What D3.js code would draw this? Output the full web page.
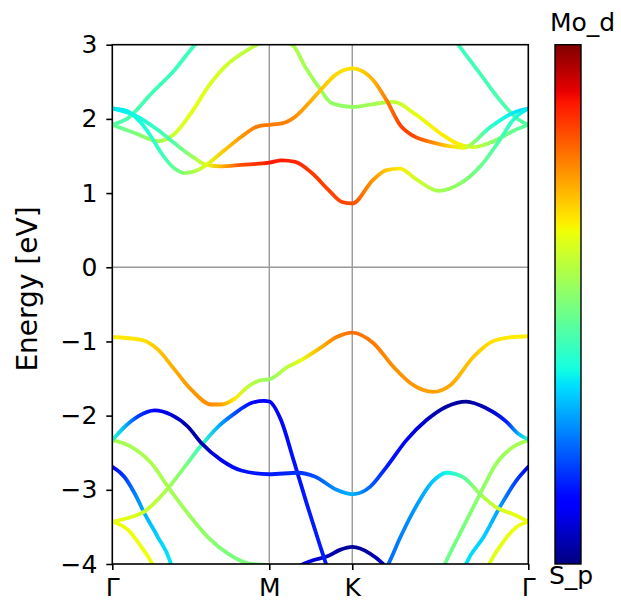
<!DOCTYPE html>
<html>
<head>
<meta charset="utf-8">
<script src="https://cdn.jsdelivr.net/npm/d3@7/dist/d3.min.js"></script>
<style>
  html, body { margin: 0; padding: 0; background: #fff; }
  svg { display: block; font-family: "DejaVu Sans", sans-serif; }
</style>
</head>
<body>
<svg id="chart" width="621" height="607"></svg>
<script>
// High-symmetry path Γ–M–K–Γ of the hexagonal Brillouin zone
const kLabels = ["Γ", "M", "K", "Γ"];
const kDist = [0, 1.137, 1.738, 3.013];   // cumulative path length (1/Å)
const eTicks = [3, 2, 1, 0, -1, -2, -3, -4];
const eRange = [-4, 3];
const projLabels = ["S_p", "Mo_d"];

// Each band: [path coordinate (0=Γ,1=M,2=K,3=Γ), energy in eV, Mo_d weight 0..1]
const bandC1 = [
  [0, 2.14, .35], [0.143, 2.05, .37], [0.291, 1.85, .42], [0.397, 1.67, .45], [0.525, 1.47, .55],
  [0.599, 1.38, .62], [0.694, 1.36, .72], [0.822, 1.38, .83], [1, 1.41, .88],
  [1.153, 1.44, .88], [1.313, 1.42, .87], [1.514, 1.27, .85], [1.716, 1.04, .84], [1.876, 0.88, .84], [2, 0.86, .83],
  [2.119, 1.18, .75], [2.195, 1.31, .70], [2.271, 1.33, .66], [2.366, 1.18, .60], [2.489, 1.03, .55],
  [2.614, 1.13, .52], [2.727, 1.36, .48], [2.839, 1.72, .44], [2.915, 1.99, .40], [3, 2.14, .35]
];
const bandC2 = [
  [0, 2.14, .35], [0.100, 2.10, .36], [0.185, 1.94, .38], [0.248, 1.76, .40], [0.312, 1.54, .42],
  [0.397, 1.33, .47], [0.461, 1.27, .52], [0.546, 1.31, .58], [0.599, 1.38, .62], [0.716, 1.58, .70],
  [0.822, 1.76, .75], [0.928, 1.90, .78], [1, 1.92, .78],
  [1.153, 1.94, .78], [1.313, 2.03, .76], [1.475, 2.21, .73], [1.635, 2.41, .70], [1.795, 2.59, .68], [2, 2.68, .67],
  [2.119, 2.52, .72], [2.195, 2.25, .78], [2.271, 1.92, .84], [2.347, 1.77, .84], [2.460, 1.68, .76],
  [2.557, 1.63, .68], [2.634, 1.61, .63], [2.688, 1.68, .52], [2.764, 1.85, .42], [2.839, 1.98, .38],
  [2.934, 2.10, .35], [3, 2.14, .33]
];
const bandC3 = [
  [0, 1.92, .46], [0.143, 1.81, .50], [0.291, 1.70, .55], [0.397, 1.80, .60], [0.503, 2.08, .63],
  [0.610, 2.43, .62], [0.716, 2.70, .60], [0.864, 2.93, .58], [1, 3.06, .57],
  [1.273, 3.00, .56], [1.434, 2.70, .55], [1.595, 2.43, .54], [1.755, 2.21, .53], [2, 2.16, .53],
  [2.119, 2.20, .55], [2.233, 2.23, .58], [2.366, 2.05, .63], [2.498, 1.81, .66], [2.593, 1.67, .66],
  [2.688, 1.62, .60], [2.795, 1.69, .52], [2.926, 1.85, .47], [3, 1.92, .45]
];
const bandC4a = [
  [0, 1.92, .45], [0.100, 2.01, .44], [0.248, 2.34, .43], [0.397, 2.66, .42], [0.514, 2.97, .42], [0.590, 3.15, .42]
];
const bandC4b = [
  [2.498, 3.33, .42], [2.602, 3.00, .42], [2.726, 2.61, .43], [2.839, 2.25, .44], [2.934, 2.01, .45], [3, 1.92, .45]
];
const bandV1 = [
  [0, -0.94, .66], [0.185, -0.98, .67], [0.291, -1.11, .70], [0.397, -1.38, .73], [0.503, -1.65, .75],
  [0.631, -1.85, .76], [0.694, -1.85, .74], [0.780, -1.77, .66], [0.864, -1.61, .58], [0.949, -1.52, .55], [1, -1.51, .53],
  [1.225, -1.34, .58], [1.386, -1.25, .63], [1.611, -1.09, .72], [1.812, -0.94, .77], [2, -0.88, .79],
  [2.119, -1.02, .78], [2.233, -1.34, .76], [2.347, -1.59, .75], [2.460, -1.68, .74], [2.557, -1.59, .73],
  [2.688, -1.21, .70], [2.795, -1.00, .67], [2.915, -0.94, .66], [3, -0.93, .66]
];
const bandV2 = [
  [0, -2.33, .40], [0.079, -2.15, .30], [0.164, -2.01, .18], [0.270, -1.93, .12], [0.376, -1.99, .08],
  [0.482, -2.15, .03], [0.567, -2.37, .04], [0.694, -2.60, .10], [0.822, -2.74, .14], [1, -2.79, .15],
  [1.346, -2.77, .17], [1.547, -2.82, .20], [1.812, -3.00, .27], [2, -3.06, .30],
  [2.101, -2.96, .22], [2.195, -2.69, .15], [2.308, -2.33, .10], [2.422, -2.06, .06], [2.534, -1.88, .03],
  [2.648, -1.81, .02], [2.761, -1.90, .05], [2.875, -2.08, .15], [2.941, -2.24, .30], [3, -2.32, .40]
];
const bandV3a = [
  [0, -2.33, .55], [0.121, -2.42, .55], [0.248, -2.64, .56], [0.355, -2.96, .55], [0.482, -3.32, .54],
  [0.610, -3.64, .52], [0.737, -3.86, .50], [0.864, -3.99, .50], [1, -4.02, .50], [1.369, -4.30, .50]
];
const bandV3b = [
  [2.498, -4.15, .48], [2.536, -3.95, .48], [2.631, -3.50, .50], [2.727, -3.05, .52], [2.820, -2.64, .54],
  [2.915, -2.42, .55], [3, -2.33, .55]
];
const bandV4a = [
  [0, -3.43, .64], [0.100, -3.38, .62], [0.206, -3.29, .60], [0.355, -2.98, .55], [0.461, -2.69, .50],
  [0.567, -2.40, .42], [0.673, -2.15, .30], [0.780, -1.97, .20], [0.885, -1.83, .13], [0.966, -1.80, .12], [1, -1.81, .12],
  [1.141, -2.06, .13], [1.298, -2.62, .14], [1.455, -3.20, .15], [1.611, -3.75, .15], [1.684, -4.00, .15], [1.757, -4.25, .15]
];
const bandV4b = [
  [2.186, -4.08, .23], [2.205, -4.00, .23], [2.271, -3.65, .25], [2.347, -3.29, .27], [2.460, -2.88, .32],
  [2.536, -2.77, .37], [2.631, -2.83, .45], [2.727, -3.06, .55], [2.820, -3.24, .60], [2.915, -3.33, .63], [3, -3.43, .64]
];
const bandV5a = [
  [0, -2.69, .10], [0.079, -2.83, .18], [0.143, -3.05, .25], [0.206, -3.32, .30], [0.291, -3.64, .33],
  [0.366, -3.95, .35], [0.380, -4.05, .35]
];
const bandV5b = [
  [2.630, -4.10, .35], [2.650, -3.98, .35], [2.745, -3.64, .33], [2.839, -3.23, .28], [2.934, -2.87, .18], [3, -2.69, .08]
];
const bandV6a = [
  [0, -3.43, .64], [0.100, -3.54, .64], [0.185, -3.77, .64], [0.248, -3.97, .64], [0.266, -4.05, .64]
];
const bandV6b = [
  [2.765, -4.06, .62], [2.782, -3.98, .62], [2.858, -3.70, .63], [2.934, -3.50, .64], [3, -3.43, .64]
];
const bandV7 = [
  [1.249, -4.10, .10], [1.370, -4.02, .10], [1.527, -3.95, .08], [1.692, -3.90, .05], [1.853, -3.81, .03],
  [2, -3.77, .02], [2.101, -3.86, .03], [2.176, -4.00, .06], [2.214, -4.10, .06]
];

const bands = [bandV7, bandV6a, bandV6b, bandV5a, bandV5b, bandV4a, bandV4b, bandV3a, bandV3b,
               bandV2, bandV1, bandC4a, bandC4b, bandC3, bandC2, bandC1];

// ---- layout ----
const svg = d3.select("#chart");
const box = { left: 112.3, right: 528.3, top: 44.7, bottom: 564 };
const cbar = { x: 555, w: 26, top: 44.7, bottom: 564 };
const tickFont = "25px";

// jet colormap built from its channel breakpoints
const rCh = d3.scaleLinear().domain([0, 0.35, 0.66, 0.89, 1]).range([0, 0, 1, 1, 0.5]).clamp(true);
const gCh = d3.scaleLinear().domain([0, 0.125, 0.375, 0.64, 0.91, 1]).range([0, 0, 1, 1, 0, 0]).clamp(true);
const bCh = d3.scaleLinear().domain([0, 0.11, 0.34, 0.65, 1]).range([0.5, 1, 1, 0, 0]).clamp(true);
const jet = t => d3.rgb(255 * rCh(t), 255 * gCh(t), 255 * bCh(t)).formatHex();

const pathToK = d3.scaleLinear().domain([0, 1, 2, 3]).range(kDist);
const x = d3.scaleLinear().domain([kDist[0], kDist[3]]).range([box.left, box.right]);
const y = d3.scaleLinear().domain(eRange).range([box.bottom, box.top]);
const px = s => x(pathToK(s));

const defs = svg.append("defs");
defs.append("clipPath").attr("id", "plot-clip")
  .append("rect").attr("x", box.left).attr("y", box.top)
  .attr("width", box.right - box.left).attr("height", box.bottom - box.top);

// reference lines: high-symmetry points and Fermi level
const guides = svg.append("g").attr("stroke", "#9a9a9a").attr("stroke-width", 1.4);
kDist.slice(1, 3).forEach(k => {
  guides.append("line").attr("x1", x(k)).attr("x2", x(k)).attr("y1", box.top).attr("y2", box.bottom);
});
guides.append("line").attr("x1", box.left).attr("x2", box.right).attr("y1", y(0)).attr("y2", y(0));

// bands, coloured along k by the projection weight
const line = d3.line().x(d => px(d[0])).y(d => y(d[1])).curve(d3.curveMonotoneX);
const bandLayer = svg.append("g").attr("clip-path", "url(#plot-clip)");
bands.forEach((band, i) => {
  const x0 = px(band[0][0]), x1 = px(band[band.length - 1][0]);
  const grad = defs.append("linearGradient").attr("id", "band-" + i)
    .attr("gradientUnits", "userSpaceOnUse")
    .attr("x1", x0).attr("x2", x1).attr("y1", 0).attr("y2", 0);
  band.forEach(d => {
    grad.append("stop").attr("offset", (px(d[0]) - x0) / (x1 - x0)).attr("stop-color", jet(d[2]));
  });
  bandLayer.append("path").datum(band)
    .attr("d", line)
    .attr("fill", "none")
    .attr("stroke", `url(#band-${i})`)
    .attr("stroke-width", 3.8)
    .attr("stroke-linecap", "round")
    .attr("stroke-linejoin", "round");
});

// axes
const yAxis = d3.axisLeft(y).tickValues(eTicks).tickSize(6).tickPadding(9).tickFormat(d3.format("d"));
const gy = svg.append("g").attr("transform", `translate(${box.left},0)`).call(yAxis);
const xAxis = d3.axisBottom(x).tickValues(kDist).tickSize(6).tickPadding(8).tickFormat((d, i) => kLabels[i]);
const gx = svg.append("g").attr("transform", `translate(0,${box.bottom})`).call(xAxis);
[gx, gy].forEach(g => {
  g.select(".domain").remove();
  g.selectAll(".tick line").attr("stroke", "#000").attr("stroke-width", 1.6);
  g.selectAll(".tick text").attr("fill", "#000").style("font-size", tickFont).style("font-family", "DejaVu Sans");
});

svg.append("rect")
  .attr("x", box.left).attr("y", box.top)
  .attr("width", box.right - box.left).attr("height", box.bottom - box.top)
  .attr("fill", "none").attr("stroke", "#000").attr("stroke-width", 1.6);

svg.append("text")
  .attr("transform", "translate(37,289) rotate(-90)")
  .attr("text-anchor", "middle")
  .style("font-size", "28px")
  .text("Energy [eV]");

// colour bar
const cgrad = defs.append("linearGradient").attr("id", "cbar-grad")
  .attr("x1", 0).attr("x2", 0).attr("y1", 1).attr("y2", 0);
d3.range(0, 1.0001, 0.01).forEach(t => {
  cgrad.append("stop").attr("offset", t).attr("stop-color", jet(t));
});
svg.append("rect")
  .attr("x", cbar.x).attr("y", cbar.top)
  .attr("width", cbar.w).attr("height", cbar.bottom - cbar.top)
  .attr("fill", "url(#cbar-grad)").attr("stroke", "#000").attr("stroke-width", 1.4);

svg.append("text").attr("x", 550).attr("y", 31).style("font-size", tickFont).text(projLabels[1]);
svg.append("text").attr("x", 549).attr("y", 584).style("font-size", tickFont).text(projLabels[0]);
</script>
</body>
</html>
